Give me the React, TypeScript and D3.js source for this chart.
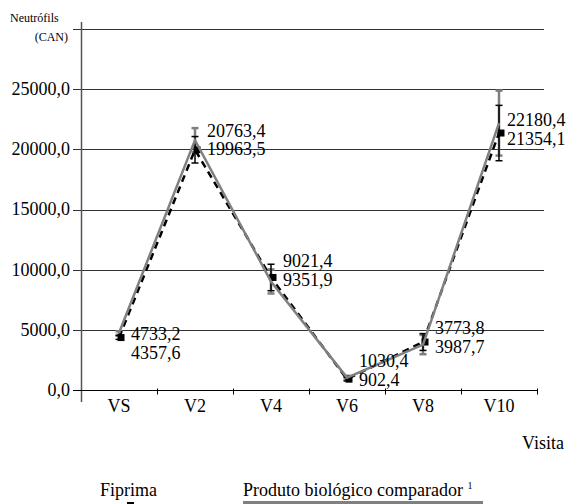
import { useEffect, useRef } from "react";
import * as d3 from "d3";

const visits = ["VS", "V2", "V4", "V6", "V8", "V10"];
const comparador = [4733.2, 20763.4, 9021.4, 1030.4, 3773.8, 22180.4];
const comparadorErr = [150, 1000, 1000, 150, 800, 2700];
const fiprima = [4357.6, 19963.5, 9351.9, 902.4, 3987.7, 21354.1];
const fiprimaErr = [150, 1100, 1100, 150, 700, 2300];
const yTicks = [0, 5000, 10000, 15000, 20000, 25000];
// hand nudges of the value labels, as placed in the original
const labelDy = [5, -8, -12, -11, -9, -2];

const fmt = (v: number) => v.toFixed(1).replace(".", ",");

function App() {
  const ref = useRef<SVGSVGElement>(null);

  useEffect(() => {
    const svg = d3.select(ref.current);
    svg.selectAll("*").remove();

    const x = d3.scaleBand().domain(visits).range([81, 537]).padding(0);
    const y = d3.scaleLinear().domain([0, 30000]).range([390, 29]);
    const cx = (i: number) => (x(visits[i]) as number) + x.bandwidth() / 2;

    // grid lines incl. top line
    svg
      .append("g")
      .selectAll("line")
      .data([...yTicks.slice(1), 30000])
      .join("line")
      .attr("x1", 73)
      .attr("x2", 544)
      .attr("y1", (d) => Math.round(y(d)) + 0.5)
      .attr("y2", (d) => Math.round(y(d)) + 0.5)
      .attr("stroke", "#333")
      .attr("stroke-width", 1);

    // y axis
    svg
      .append("line")
      .attr("x1", 81.5)
      .attr("x2", 81.5)
      .attr("y1", 22)
      .attr("y2", 402)
      .attr("stroke", "#555")
      .attr("stroke-width", 1.5);

    // x axis
    const xa = svg
      .append("g")
      .attr("transform", `translate(0,${Math.round(y(0)) + 0.5})`);
    xa.append("line").attr("x1", 73).attr("x2", 537).attr("stroke", "#000");
    xa.selectAll("line.tick")
      .data(visits.slice(1).concat(["end"]))
      .join("line")
      .attr("class", "tick")
      .attr("x1", (d, i) => Math.round(81 + x.bandwidth() * (i + 1)) + 0.5)
      .attr("x2", (d, i) => Math.round(81 + x.bandwidth() * (i + 1)) + 0.5)
      .attr("y1", -2)
      .attr("y2", 4)
      .attr("stroke", "#000");

    svg
      .append("g")
      .selectAll("text")
      .data(visits)
      .join("text")
      .attr("x", (d, i) => cx(i))
      .attr("y", 412)
      .attr("text-anchor", "middle")
      .attr("font-size", 18)
      .text((d) => d);

    svg
      .append("g")
      .selectAll("text")
      .data(yTicks)
      .join("text")
      .attr("x", 70)
      .attr("y", (d) => y(d))
      .attr("dy", "0.33em")
      .attr("text-anchor", "end")
      .attr("font-size", 18)
      .text((d) => fmt(d));

    svg
      .append("text")
      .attr("x", 10)
      .attr("y", 22)
      .attr("font-size", 12)
      .text("Neutrófils");
    svg
      .append("text")
      .attr("x", 68)
      .attr("y", 41)
      .attr("text-anchor", "end")
      .attr("font-size", 12)
      .text("(CAN)");
    svg
      .append("text")
      .attr("x", 564)
      .attr("y", 449)
      .attr("text-anchor", "end")
      .attr("font-size", 18)
      .text("Visita");

    // error bars
    const errBars = (vals: number[], errs: number[], color: string, w: number) => {
      const g = svg.append("g").attr("stroke", color).attr("stroke-width", w);
      vals.forEach((v, i) => {
        const xx = cx(i);
        const y1 = y(v - errs[i]);
        const y2 = y(v + errs[i]);
        g.append("line").attr("x1", xx).attr("x2", xx).attr("y1", y1).attr("y2", y2);
        g.append("line").attr("x1", xx - 3.5).attr("x2", xx + 3.5).attr("y1", y1).attr("y2", y1);
        g.append("line").attr("x1", xx - 3.5).attr("x2", xx + 3.5).attr("y1", y2).attr("y2", y2);
      });
    };
    errBars(comparador, comparadorErr, "#7f7f7f", 2.5);
    errBars(fiprima, fiprimaErr, "#000", 1.5);

    const line = d3
      .line<number>()
      .x((d, i) => cx(i))
      .y((d) => y(d));

    svg
      .append("path")
      .datum(fiprima)
      .attr("fill", "none")
      .attr("stroke", "#000")
      .attr("stroke-width", 2.5)
      .attr("stroke-dasharray", "7,5")
      .attr("d", line);

    svg
      .append("g")
      .selectAll("rect")
      .data(fiprima)
      .join("rect")
      .attr("x", (d, i) => cx(i) - 3.5 + 2)
      .attr("y", (d) => y(d) - 3.5)
      .attr("width", 7)
      .attr("height", 7)
      .attr("fill", "#000");

    svg
      .append("path")
      .datum(comparador)
      .attr("fill", "none")
      .attr("stroke", "#808080")
      .attr("stroke-width", 2.5)
      .attr("d", line);

    // value labels
    const lg = svg.append("g").attr("font-size", 18);
    visits.forEach((v, i) => {
      const mid = y((comparador[i] + fiprima[i]) / 2) + labelDy[i];
      const lx = Math.min(cx(i) + 12, 507);
      lg.append("text").attr("x", lx).attr("y", mid).text(fmt(comparador[i]));
      lg.append("text").attr("x", lx).attr("y", mid + 18.5).text(fmt(fiprima[i]));
    });

    // legend
    const leg = svg.append("g").attr("font-size", 18);
    leg.append("text").attr("x", 100).attr("y", 496).text("Fiprima");
    leg.append("rect").attr("x", 127).attr("y", 502).attr("width", 7).attr("height", 7).attr("fill", "#000");
    const t = leg.append("text").attr("x", 243).attr("y", 496).text("Produto biológico comparador ");
    t.append("tspan").attr("font-size", 10).attr("dy", -7).text("1");
    leg.append("line")
      .attr("x1", 243)
      .attr("x2", 483)
      .attr("y1", 502.5)
      .attr("y2", 502.5)
      .attr("stroke", "#808080")
      .attr("stroke-width", 3);
  }, []);

  return (
    <svg
      ref={ref}
      width={566}
      height={504}
      style={{
        position: "absolute",
        left: 0,
        top: 0,
        background: "#fff",
        fontFamily: '"Liberation Serif", "Times New Roman", "DejaVu Serif", serif',
      }}
    />
  );
}

export default App;
